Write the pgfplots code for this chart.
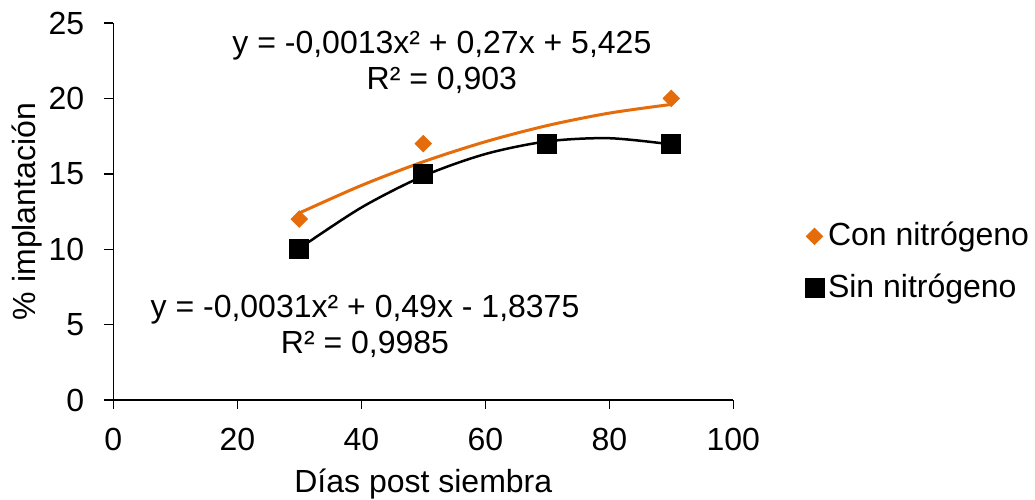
\documentclass[border=0pt]{standalone}
\usepackage{pgfplots}
\pgfplotsset{compat=1.18}
\usepackage{fontspec}
\setmainfont{Liberation Sans}
\definecolor{exorange}{HTML}{E46C0A}
\begin{document}
\fontsize{16}{19.2}\selectfont
\begin{tikzpicture}
\useasboundingbox (-56.65pt,-49.5pt) rectangle (460.85pt,200pt);
\begin{axis}[
  scale only axis,
  width=310pt, height=188.5pt,
  xmin=0, xmax=100, ymin=0, ymax=25,
  xtick={0,20,...,100}, ytick={0,5,...,25},
  axis x line=bottom, axis y line=left,
  axis line style={-, line width=0.7pt, black},
  tick style={line width=0.7pt, black},
  tick align=outside, major tick length=4.5pt,
  /pgf/number format/assume math mode=true,
  xticklabel style={yshift=-4pt},
  yticklabel style={xshift=-4.5pt},
  xlabel={Días post siembra},
  ylabel={\% implantación},
  xlabel style={yshift=2pt},
  ylabel style={yshift=-7.5pt},
  legend style={at={(1.115,0.366)}, anchor=west, draw=none, fill=none,
    row sep=7.5pt, inner sep=0pt},
  legend cell align=left,
  legend image code/.code={\draw[#1] plot coordinates {(0.15cm,0cm)};},
  clip=false,
]
% Con nitrógeno
\addplot[only marks, mark=square*, mark options={rotate=45}, mark size=2.9pt, color=exorange] coordinates {
  (30,12) (50,17) (70,17) (90,20)
};
% Sin nitrógeno
\addplot[only marks, mark=square*, mark size=4.75pt, color=black] coordinates {
  (30,10) (50,15) (70,17) (90,17)
};
% polynomial trend lines
\addplot[forget plot, smooth, no marks, line width=1.5pt, color=exorange] coordinates {
  (30,12.4) (40,14.225) (50,15.8) (60,17.125) (70,18.2) (80,19.025) (90,19.6)
};
\addplot[forget plot, smooth, no marks, line width=1.25pt, color=black] coordinates {
  (30,10.05) (40,12.76) (50,14.85) (60,16.31) (70,17.15) (80,17.36) (90,16.95)
};
\legend{Con nitrógeno, Sin nitrógeno}
\node[align=center, inner sep=0pt] at (axis cs:53,22.38)
  {y = -0,0013x² + 0,27x + 5,425\\[-1pt] R² = 0,903};
\node[align=center, inner sep=0pt] at (axis cs:40.6,4.9)
  {y = -0,0031x² + 0,49x - 1,8375\\[-1pt] R² = 0,9985};
\end{axis}
\end{tikzpicture}
\end{document}
